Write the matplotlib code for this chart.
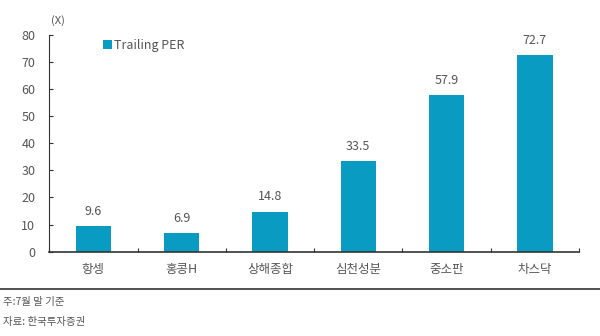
import numpy as np
import matplotlib.pyplot as plt

plt.rcParams['font.family'] = ['Noto Sans CJK KR', 'DejaVu Sans']

# data
markets = ['항셍', '홍콩H', '상해종합', '심천성분', '중소판', '차스닥']
trailing_per = [9.6, 6.9, 14.8, 33.5, 57.9, 72.7]
y_ticks = [0, 10, 20, 30, 40, 50, 60, 70, 80]

bar_color = '#0A9BC3'
text_color = '#555555'

fig = plt.figure(figsize=(6, 3.36), dpi=100)
ax = fig.add_axes([0.082, 0.251, 0.883, 0.645])

x = np.arange(len(markets))
bars = ax.bar(x, trailing_per, width=0.4, color=bar_color, label='Trailing PER', zorder=2)

# value labels on top of bars
for xi, v in zip(x, trailing_per):
    ax.text(xi, v + 3.0, f'{v:.1f}', ha='center', va='bottom', fontsize=9, color=text_color)

ax.set_xlim(-0.5, len(markets) - 0.5)
ax.set_ylim(0, 80)
ax.set_yticks(y_ticks)
ax.tick_params(axis='y', direction='in', length=3, pad=10, labelsize=9, labelcolor=text_color, color='#333333')

# x ticks sit on category boundaries, labels at centres
ax.set_xticks(np.arange(len(markets) + 1) - 0.5)
ax.set_xticklabels([])
ax.set_xticks(x, minor=True)
ax.set_xticklabels(markets, minor=True)
ax.tick_params(axis='x', which='major', direction='in', length=3, color='#333333')
ax.tick_params(axis='x', which='minor', length=0, pad=8, labelsize=9, labelcolor=text_color)

for side in ['top', 'right']:
    ax.spines[side].set_visible(False)
ax.spines['left'].set_color('#333333')
ax.spines['bottom'].set_color('#333333')
ax.spines['bottom'].set_linewidth(1.2)

ax.text(-0.48, 85.5, '(X)', fontsize=8, color=text_color, ha='left', va='center', clip_on=False)

ax.legend(loc='upper left', bbox_to_anchor=(0.08, 1.035), frameon=False, fontsize=9,
          handlelength=0.7, handleheight=0.7, handletextpad=0.2, labelcolor=text_color)

# separator line and footnotes
fig.add_artist(plt.Line2D([0, 1], [1 - 289 / 336, 1 - 289 / 336], color='#333333', linewidth=1.2))
fig.text(0.005, 1 - 302 / 336, '주:7월 말 기준', fontsize=7.5, color=text_color, va='center')
fig.text(0.005, 1 - 321.5 / 336, '자료: 한국투자증권', fontsize=7.5, color=text_color, va='center')

fig.savefig('out.png', dpi=100)
